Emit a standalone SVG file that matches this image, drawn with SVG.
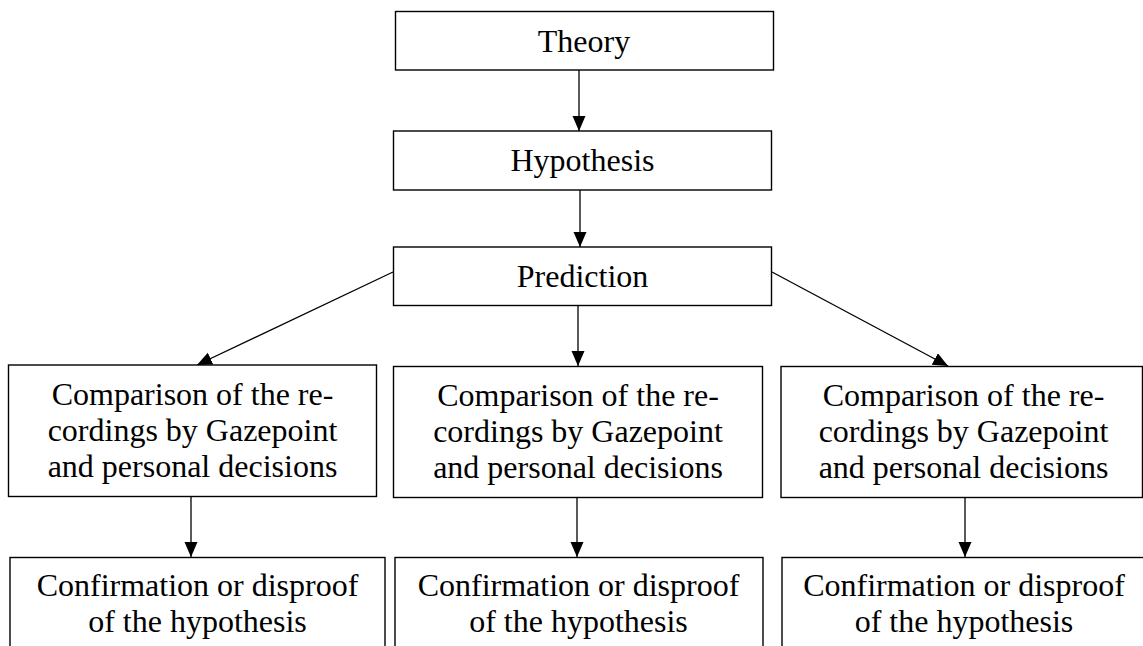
<svg xmlns="http://www.w3.org/2000/svg" width="1143" height="646" viewBox="0 0 1143 646">
<style>
.box{fill:#fff;stroke:#000;stroke-width:1.4}
.lbl{font-family:"Liberation Serif","Times New Roman",serif;font-size:32px;fill:#000;text-anchor:middle}
.con{stroke:#000;stroke-width:1.3;fill:none;marker-end:url(#ah)}
</style>
<defs>
<marker id="ah" markerUnits="userSpaceOnUse" markerWidth="16" markerHeight="14" refX="15" refY="6.5" orient="auto">
<path d="M0,0 L15,6.5 L0,13 z" fill="#000"/>
</marker>
</defs>
<rect width="1143" height="646" fill="#fff"/>
<g id="connectors">
<line class="con" x1="579" y1="70" x2="579" y2="131"/>
<line class="con" x1="580" y1="190" x2="580" y2="247"/>
<line class="con" x1="578" y1="305" x2="578" y2="366"/>
<line class="con" x1="393" y1="272" x2="197" y2="365"/>
<line class="con" x1="772" y1="272" x2="948" y2="366"/>
<line class="con" x1="191" y1="497" x2="191" y2="557"/>
<line class="con" x1="577" y1="498" x2="577" y2="557"/>
<line class="con" x1="965" y1="498" x2="965" y2="557"/>
</g>
<g id="theory">
<rect class="box" x="395.5" y="11.5" width="378" height="58.5"/>
<text class="lbl" x="584" y="52">Theory</text>
</g>
<g id="hypothesis">
<rect class="box" x="393.5" y="131" width="378" height="59"/>
<text class="lbl" x="582.5" y="171">Hypothesis</text>
</g>
<g id="prediction">
<rect class="box" x="393.5" y="247" width="378" height="58.5"/>
<text class="lbl" x="582.5" y="287">Prediction</text>
</g>
<g id="comparison-left">
<rect class="box" x="8.5" y="365" width="368" height="131.5"/>
<text class="lbl" x="192.5" y="405">Comparison of the re-</text>
<text class="lbl" x="192.5" y="441">cordings by Gazepoint</text>
<text class="lbl" x="192.5" y="477">and personal decisions</text>
</g>
<g id="comparison-middle">
<rect class="box" x="393.5" y="366.5" width="369" height="131"/>
<text class="lbl" x="578" y="406">Comparison of the re-</text>
<text class="lbl" x="578" y="442">cordings by Gazepoint</text>
<text class="lbl" x="578" y="478">and personal decisions</text>
</g>
<g id="comparison-right">
<rect class="box" x="781" y="366.5" width="361.5" height="131"/>
<text class="lbl" x="963.5" y="406">Comparison of the re-</text>
<text class="lbl" x="963.5" y="442">cordings by Gazepoint</text>
<text class="lbl" x="963.5" y="478">and personal decisions</text>
</g>
<g id="result-left">
<rect class="box" x="10" y="557.5" width="375" height="100"/>
<text class="lbl" x="197.5" y="596">Confirmation or disproof</text>
<text class="lbl" x="197.5" y="632">of the hypothesis</text>
</g>
<g id="result-middle">
<rect class="box" x="395" y="557.5" width="368" height="100"/>
<text class="lbl" x="578.5" y="596">Confirmation or disproof</text>
<text class="lbl" x="578.5" y="632">of the hypothesis</text>
</g>
<g id="result-right">
<rect class="box" x="782" y="557.5" width="375" height="100"/>
<text class="lbl" x="964" y="596">Confirmation or disproof</text>
<text class="lbl" x="964" y="632">of the hypothesis</text>
</g>
</svg>
